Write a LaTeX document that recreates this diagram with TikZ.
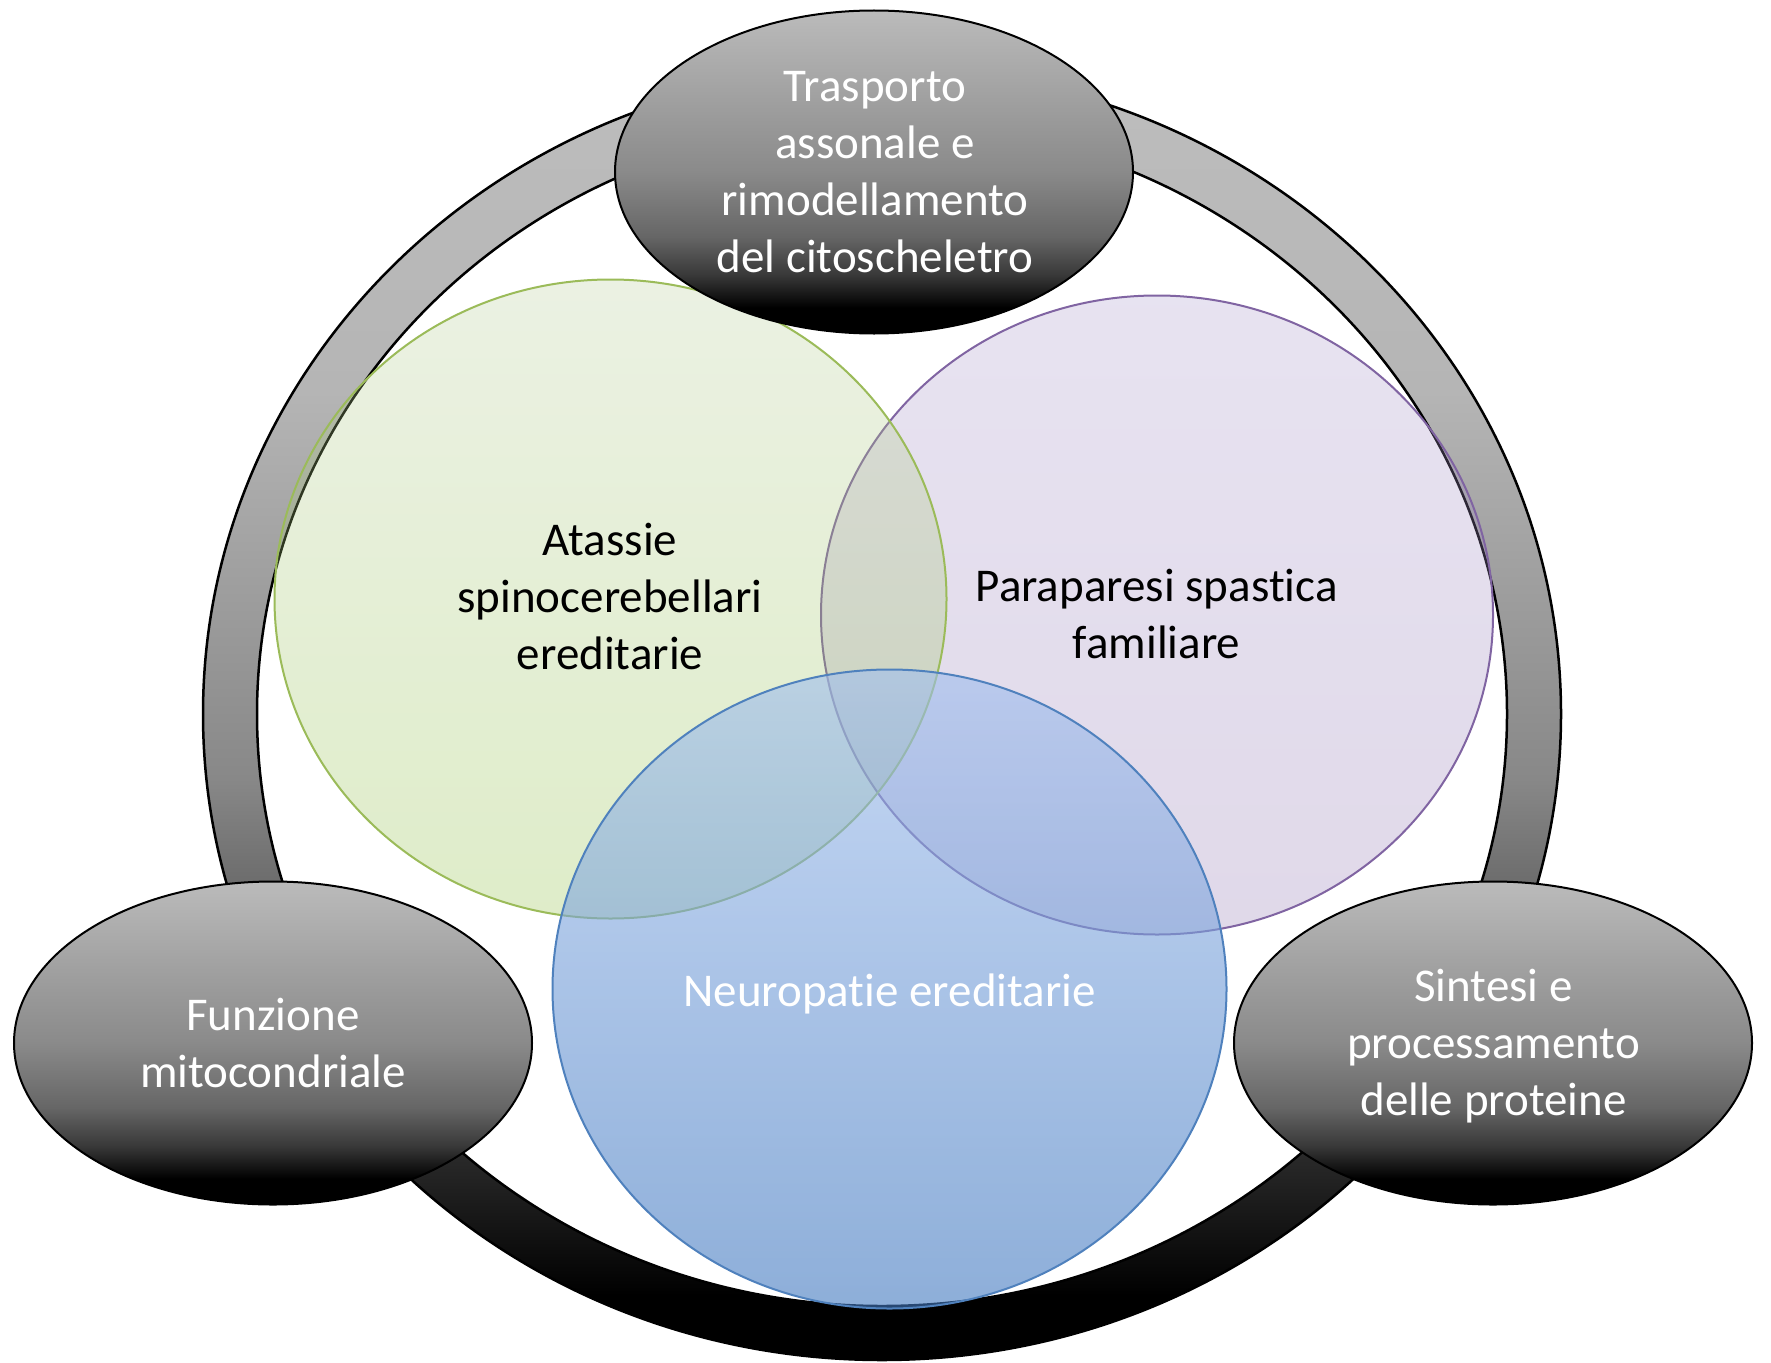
\documentclass[tikz,border=0pt]{standalone}
\usepackage{fontspec}
\setmainfont{Carlito}[Ligatures=NoCommon]
\usetikzlibrary{shapes.geometric}

% tones of the outer ring
\definecolor{ringTop}{RGB}{189,189,189}
\definecolor{ringUpper}{RGB}{181,181,181}
\definecolor{ringMid}{RGB}{136,136,136}
\definecolor{ringLow}{RGB}{112,112,112}
\definecolor{ringDeep}{RGB}{42,42,42}
% tones of the grey label ellipses
\definecolor{blobTop}{RGB}{187,187,187}
\definecolor{blobMid}{RGB}{138,138,138}
\definecolor{blobLow}{RGB}{102,102,102}
\definecolor{blobDeep}{RGB}{56,56,56}
% colours of the three sets
\definecolor{greenEdge}{RGB}{155,187,89}
\definecolor{greenTop}{RGB}{185,207,155}
\definecolor{greenBot}{RGB}{140,190,62}
\definecolor{purpleEdge}{RGB}{128,100,162}
\definecolor{purpleTop}{RGB}{172,155,205}
\definecolor{purpleBot}{RGB}{145,119,178}
\definecolor{blueEdge}{RGB}{79,129,189}
\definecolor{blueTop}{RGB}{160,190,238}
\definecolor{blueBot}{RGB}{66,121,192}

% vertical shadings (the path's box maps onto 25bp..75bp)
\pgfdeclareverticalshading{ringshade}{100bp}{%
  color(0bp)=(black); color(27.5bp)=(black); color(33bp)=(ringDeep);
  color(44bp)=(ringLow); color(47.5bp)=(ringMid); color(62.5bp)=(ringUpper);
  color(75bp)=(ringTop); color(100bp)=(ringTop)}
\pgfdeclareverticalshading{blobshade}{100bp}{%
  color(0bp)=(black); color(29bp)=(black); color(34bp)=(blobDeep);
  color(40bp)=(blobLow); color(50bp)=(blobMid); color(75bp)=(blobTop);
  color(100bp)=(blobTop)}

% uniform line box: 0.75em above, 0.25em below the baseline
\newcommand{\lnstrut}{\rule[-0.25em]{0pt}{1em}}

\begin{document}
\begin{tikzpicture}[x=1pt,y=-1pt,
  blob/.style={ellipse, draw=black, line width=2pt, shading=blobshade,
    minimum width=518pt, minimum height=323pt, inner sep=0pt},
  venn/.style={ellipse, line width=2pt, inner sep=0pt,
    minimum width=672pt, minimum height=639pt},
  caption/.style={inner sep=0pt, align=center,
    font=\fontsize{47}{57}\selectfont},
]
\fill[white] (0,0) rectangle (1771,1362);
\useasboundingbox (0,0) rectangle (1771,1362);

% outer ring
\path[even odd rule, draw=black, line width=2.5pt, shading=ringshade]
  (882,714) ellipse [x radius=679, y radius=646]
  (882,714) ellipse [x radius=625, y radius=592];

% the three overlapping sets
\node[venn, draw=purpleEdge, top color=purpleTop, bottom color=purpleBot,
  fill opacity=0.28] (hsp) at (1157,615) {};
\node[venn, draw=greenEdge, top color=greenTop, bottom color=greenBot,
  fill opacity=0.28] (sca) at (610.5,599) {};
\node[venn, draw=blueEdge, top color=blueTop, bottom color=blueBot,
  fill opacity=0.6, minimum width=674pt] (neu) at (889.5,989) {};

% grey label ellipses on the ring
\node[blob] (axon) at (874,172) {};
\node[blob] (mito) at (273,1043) {};
\node[blob] (prot) at (1493,1043) {};

% texts
\node[caption, text=white] (axonText) at (875,175.25)
  {\lnstrut Trasporto\\\lnstrut assonale e\\\lnstrut rimodellamento\\\lnstrut del citoscheletro};
\node[caption, text=white] (mitoText) at (273,1047)
  {\lnstrut Funzione\\\lnstrut mitocondriale};
\node[caption, text=white] (protText) at (1493.5,1046.6)
  {\lnstrut Sintesi e\\\lnstrut processamento\\\lnstrut delle proteine};
\node[caption, text=black] (scaText) at (610,601)
  {\lnstrut Atassie\\\lnstrut spinocerebellari\\\lnstrut ereditarie};
\node[caption, text=black] (hspText) at (1156.6,618)
  {\lnstrut Paraparesi spastica\\\lnstrut familiare};
\node[caption, text=white] (neuText) at (889.5,995)
  {\lnstrut Neuropatie ereditarie};
\end{tikzpicture}
\end{document}
